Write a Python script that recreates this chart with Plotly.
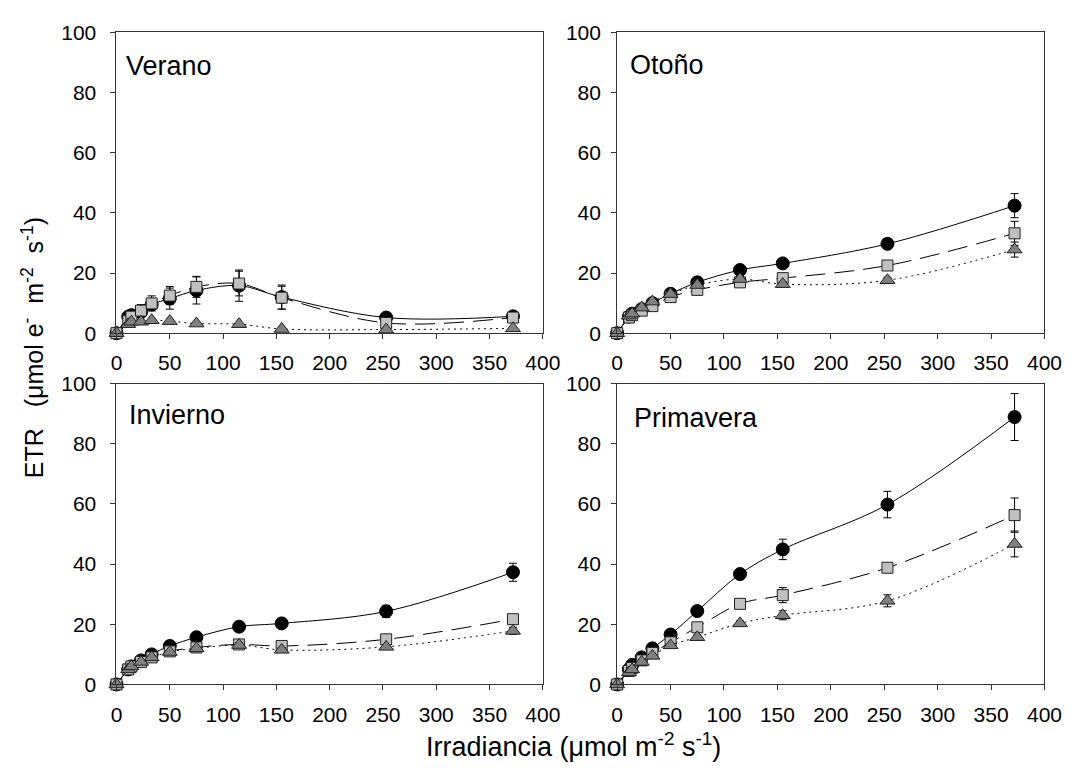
import plotly.graph_objects as go

# ---------------- data ----------------
irr = [0, 11, 14, 23, 33, 50, 75, 115, 155, 253, 372]

verano_circ = [0, 5.5, 6, 7, 9.5, 11.5, 14.2, 15.8, 12, 5.2, 5.6]
verano_circ_err = [0, 0, 0, 0.8, 1.5, 3.5, 4.5, 5.2, 4, 0.8, 0.8]
verano_sq = [0, 4, 5.5, 7.5, 9.9, 12.5, 15.4, 16.5, 11.8, 3.4, 5.2]
verano_sq_err = [0, 0, 1, 2, 2.5, 3, 3.5, 4.1, 3.8, 0.8, 0.8]
verano_tri = [0, 3, 3.8, 3.8, 4.3, 4, 3.2, 3.0, 1.4, 1.2, 1.6]
verano_tri_err = [0, 0, 0, 0, 0, 0, 0, 0, 0, 0, 0]

otono_circ = [0, 5.5, 6.5, 8, 10, 13.1, 16.9, 21, 23.2, 29.7, 42.4]
otono_circ_err = [0, 0, 0, 0.5, 0.5, 0.8, 0.8, 0.8, 0.8, 1, 4]
otono_sq = [0, 5.2, 6, 7.5, 9, 12, 14.4, 16.9, 18.3, 22.5, 33.2]
otono_sq_err = [0, 0, 0, 0.5, 0.5, 0.8, 0.8, 1, 1.5, 1.5, 4]
otono_tri = [0, 5.8, 6.5, 8.5, 10.5, 13, 16, 18, 16.3, 17.6, 27.8]
otono_tri_err = [0, 0, 0, 0.5, 0.5, 0.5, 0.5, 0.8, 0.8, 1, 2.5]

invierno_circ = [0, 5, 6, 8, 10, 12.8, 15.7, 19.2, 20.3, 24.3, 37.3]
invierno_circ_err = [0, 0, 0, 0.5, 0.5, 0.8, 0.8, 0.8, 0.8, 2, 3]
invierno_sq = [0, 5, 6, 7.5, 9, 11, 12.3, 13.3, 12.8, 15, 21.7]
invierno_sq_err = [0, 0, 0, 0.5, 0.5, 0.5, 0.8, 0.8, 0.8, 1, 1.2]
invierno_tri = [0, 5, 6, 7.5, 9, 10.8, 12, 13.1, 11.5, 12.5, 17.8]
invierno_tri_err = [0, 0, 0, 0.5, 0.5, 0.5, 0.5, 0.8, 0.8, 0.8, 1.2]

primavera_circ = [0, 5, 6.5, 9, 12, 16.6, 24.4, 36.7, 44.9, 59.8, 88.9]
primavera_circ_err = [0, 0, 0, 0.5, 0.8, 1, 1, 1.5, 3.4, 4.4, 7.8]
primavera_sq = [0, 4.5, 5.5, 8, 10.5, 14, 19, 26.8, 29.7, 38.8, 56.3]
primavera_sq_err = [0, 0, 0, 0.5, 0.5, 0.8, 0.8, 1, 2.5, 1.5, 5.7]
primavera_tri = [0, 4, 5, 7.5, 9.5, 13, 15.7, 20.3, 23, 27.8, 46.7]
primavera_tri_err = [0, 0, 0, 0.5, 0.5, 0.5, 0.8, 0.8, 1.5, 2, 4.3]

panel_names = ["Verano", "Otoño", "Invierno", "Primavera"]
x_ticks = [0, 50, 100, 150, 200, 250, 300, 350, 400]
y_ticks = [0, 20, 40, 60, 80, 100]

panels = [
    (verano_circ, verano_circ_err, verano_sq, verano_sq_err, verano_tri, verano_tri_err),
    (otono_circ, otono_circ_err, otono_sq, otono_sq_err, otono_tri, otono_tri_err),
    (invierno_circ, invierno_circ_err, invierno_sq, invierno_sq_err, invierno_tri, invierno_tri_err),
    (primavera_circ, primavera_circ_err, primavera_sq, primavera_sq_err, primavera_tri, primavera_tri_err),
]

W, H = 1084, 776
FONT = "Liberation Sans, Arial, sans-serif"

# panel pixel boxes (left, right, top, bottom)
boxes = [
    (113, 549, 21, 331),
    (625, 1062, 21, 331),
    (113, 549, 383, 693),
    (625, 1062, 383, 693),
]
y_standoff = [10, 6, 10, 6]
label_pos = [(121, 56), (636, 55), (124, 415), (640, 418)]

fig = go.Figure()
layout = dict(
    width=W, height=H,
    margin=dict(l=0, r=0, t=0, b=0),
    paper_bgcolor="white", plot_bgcolor="white",
    showlegend=False,
    font=dict(family=FONT, size=21, color="black"),
)

series_styles = [
    dict(symbol="circle", size=13, color="black", line_color="black", dash="solid"),
    dict(symbol="square", size=11, color="#c0c0c0", line_color="#202020", dash="20px,9px"),
    dict(symbol="triangle-up", size=13, color="#808080", line_color="#202020", dash="2px,4px"),
]

annotations = []
for i, (data, box) in enumerate(zip(panels, boxes)):
    xa = "x" if i == 0 else f"x{i+1}"
    ya = "y" if i == 0 else f"y{i+1}"
    l, r, t, b = box
    layout["xaxis" if i == 0 else f"xaxis{i+1}"] = dict(
        domain=[l / W, r / W], anchor=ya, range=[0, 400],
        tickvals=x_ticks, ticks="outside", ticklen=5, tickcolor="#333",
        showline=True, linecolor="#333", linewidth=1, mirror=True,
        showgrid=False, zeroline=False, tickfont=dict(size=21),
        ticklabelstandoff=6,
    )
    layout["yaxis" if i == 0 else f"yaxis{i+1}"] = dict(
        domain=[1 - b / H, 1 - t / H], anchor=xa, range=[0, 100],
        tickvals=y_ticks, ticks="outside", ticklen=5, tickcolor="#333",
        showline=True, linecolor="#333", linewidth=1, mirror=True,
        showgrid=False, zeroline=False, tickfont=dict(size=21),
        ticklabelstandoff=y_standoff[i],
    )
    circ, circ_e, sq, sq_e, tri, tri_e = data
    for vals, errs, st in [(circ, circ_e, series_styles[0]), (sq, sq_e, series_styles[1]), (tri, tri_e, series_styles[2])]:
        fig.add_trace(go.Scatter(
            x=irr, y=vals, xaxis=xa, yaxis=ya, mode="lines+markers",
            line=dict(color="black", width=1, dash=st["dash"], shape="spline", smoothing=1.0),
            marker=dict(symbol=st["symbol"], size=st["size"], color=st["color"],
                        line=dict(color=st["line_color"], width=1)),
            error_y=dict(type="data", array=errs, visible=True, color="black", thickness=1, width=4),
            cliponaxis=False,
        ))
    lx, ly = label_pos[i]
    annotations.append(dict(
        text=panel_names[i], x=lx / W, y=1 - ly / H, xref="paper", yref="paper",
        xanchor="left", yanchor="middle", showarrow=False, font=dict(size=27, family=FONT),
    ))

annotations.append(dict(
    text="Irradiancia (μmol m<sup>-2</sup> s<sup>-1</sup>)", x=580 / W, y=1 - 755 / H,
    xref="paper", yref="paper", xanchor="center", yanchor="middle", showarrow=False,
    font=dict(size=27, family=FONT),
))
annotations.append(dict(
    text=("ETR&nbsp;&nbsp;&nbsp;(μmol e<sup>-</sup>&nbsp;&nbsp;"
          "m<sup>-2</sup>&nbsp;&nbsp;s<sup>-1</sup>)"),
    x=27 / W, y=1 - 346 / H,
    xref="paper", yref="paper", xanchor="center", yanchor="middle", showarrow=False,
    textangle=-90, font=dict(size=25, family=FONT),
))
layout["annotations"] = annotations
fig.update_layout(**layout)
fig.write_html("out.html")
